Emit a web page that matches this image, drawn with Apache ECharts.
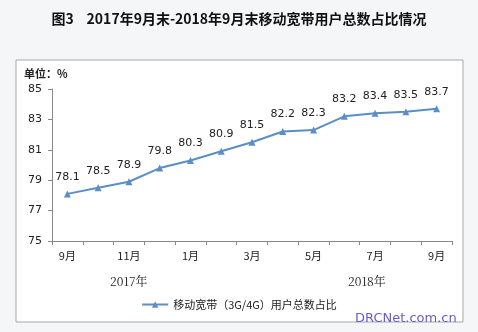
<!DOCTYPE html>
<html><head><meta charset="utf-8">
<script src="https://cdn.jsdelivr.net/npm/echarts@6/dist/echarts.min.js"></script>
<style>html,body{margin:0;padding:0;background:#f5f6f8;}#c{width:478px;height:332px;}</style>
</head><body><div id="c"></div>
<script>
var categories = ['9月','10月','11月','12月','1月','2月','3月','4月','5月','6月','7月','8月','9月'];
var values = [78.1, 78.5, 78.9, 79.8, 80.3, 80.9, 81.5, 82.2, 82.3, 83.2, 83.4, 83.5, 83.7];
var seriesName = '移动宽带（3G/4G）用户总数占比';
var yearLabels = ['2017年', '2018年'];
var chart = echarts.init(document.getElementById('c'));
chart.setOption({
  backgroundColor: '#f5f6f8',
  animation: false,
  title: {
    text: '图3    2017年9月末-2018年9月末移动宽带用户总数占比情况',
    left: 'center', top: 7,
    textStyle: {fontFamily: 'Noto Sans CJK SC', fontWeight: 'bold', fontSize: 14, color: '#111'}
  },
  graphic: [
    {type: 'rect', z: -10, shape: {x: 16, y: 60, width: 447, height: 262}, style: {fill: '#fff', stroke: '#a8a8a8', lineWidth: 1}},
    {type: 'text', left: 24, top: 68, style: {text: '单位：%', font: 'bold 11px "Noto Sans CJK SC"', fill: '#222'}},
    {type: 'text', left: 110, top: 275, style: {text: yearLabels[0], font: '12px "Noto Serif CJK SC", "Noto Sans CJK SC"', fill: '#222'}},
    {type: 'text', left: 348, top: 275, style: {text: yearLabels[1], font: '12px "Noto Serif CJK SC", "Noto Sans CJK SC"', fill: '#222'}},
    {type: 'text', left: 355, top: 312, style: {text: 'DRCNet.com.cn', font: '13px "DejaVu Sans"', fill: '#6a5acd'}}
  ],
  legend: {
    bottom: 17, left: 'center',
    itemWidth: 26, itemHeight: 8,
    textStyle: {fontFamily: 'Noto Sans CJK SC', fontSize: 11, color: '#222'},
    data: [seriesName]
  },
  grid: {left: 52, right: 26, top: 89, bottom: 91},
  xAxis: {
    type: 'category', data: categories, boundaryGap: true,
    axisLine: {lineStyle: {color: '#888'}},
    axisTick: {show: true, alignWithLabel: false, interval: 0, length: 4, lineStyle: {color: '#888'}},
    axisLabel: {interval: 1, color: '#222', fontSize: 11, fontFamily: 'Noto Sans CJK SC', margin: 9}
  },
  yAxis: {
    type: 'value', min: 75, max: 85, interval: 2,
    axisLine: {show: true, lineStyle: {color: '#888'}},
    axisTick: {show: true, length: 4, lineStyle: {color: '#888'}},
    splitLine: {show: false},
    axisLabel: {color: '#222', fontSize: 11, fontFamily: 'DejaVu Sans', margin: 10}
  },
  series: [{
    name: seriesName, type: 'line', data: values,
    symbol: 'triangle', symbolSize: 7,
    lineStyle: {color: '#5a8ec6', width: 2},
    itemStyle: {color: '#5a8ec6'},
    label: {show: true, position: 'top', distance: 8, color: '#222', fontSize: 11, fontFamily: 'DejaVu Sans'}
  }]
});
</script></body></html>
